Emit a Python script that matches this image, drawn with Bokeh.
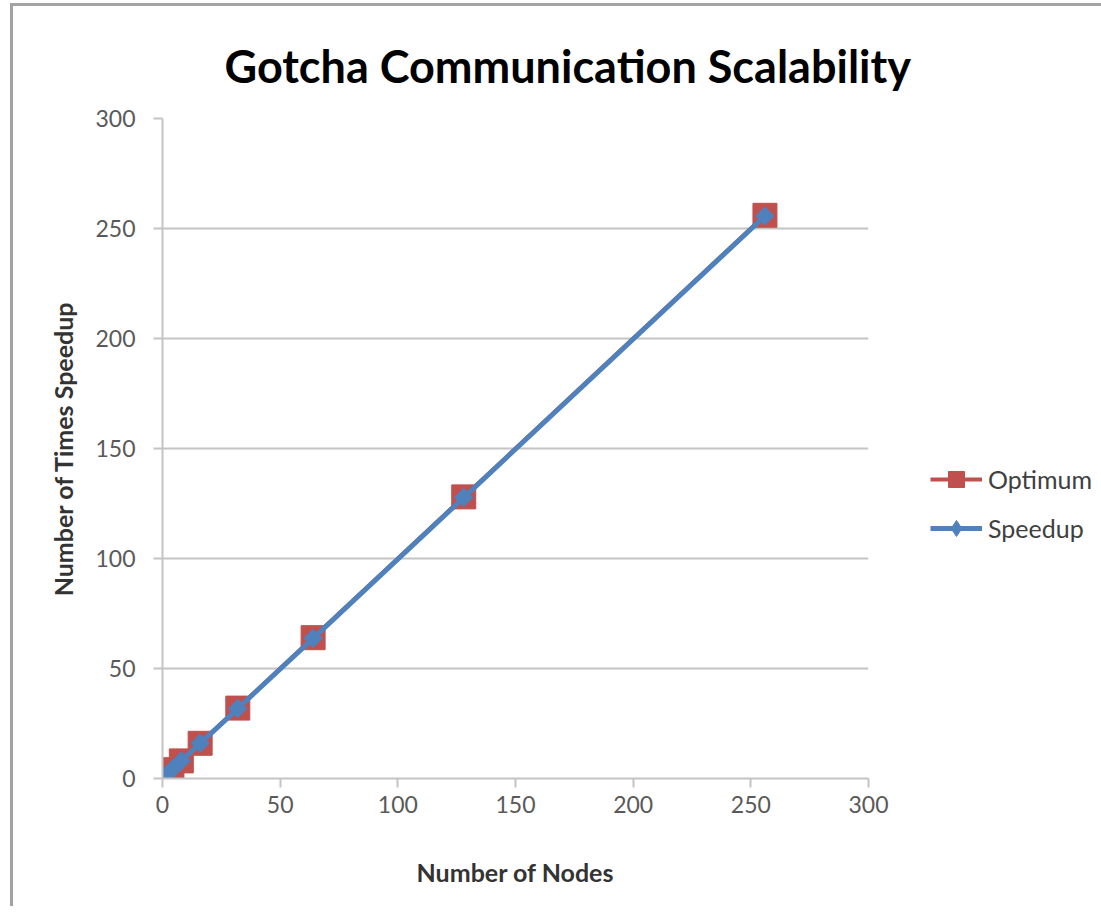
from bokeh.plotting import figure
from bokeh.models import Range1d, FixedTicker, Legend, LegendItem, Title
from bokeh.embed import file_html
from bokeh.resources import INLINE
import math

# ---- data ----
nodes = [1, 2, 4, 8, 16, 32, 64, 128, 256]
optimum = [1, 2, 4, 8, 16, 32, 64, 128, 256]
speedup = [1, 2, 4, 8, 16, 31.8, 63.7, 127.7, 255.7]
x_ticks = [0, 50, 100, 150, 200, 250, 300]
y_ticks = [0, 50, 100, 150, 200, 250, 300]
title_text = "Gotcha Communication Scalability"
x_label = "Number of Nodes"
y_label = "Number of Times Speedup"
series_names = ["Optimum", "Speedup"]

RED = "#C0504D"
BLUE = "#4F81BD"
GRID = "#c4c4c4"
FONT = "Lato"

p = figure(
    frame_width=706, frame_height=660,
    min_border_left=149, min_border_top=112, min_border_bottom=128, min_border_right=225,
    x_range=Range1d(0, 300), y_range=Range1d(0, 300),
    output_backend="svg", toolbar_location=None,
    background_fill_color="white", border_fill_color="white",
)
p.outline_line_color = None
p.styles = {"border-left": "3px solid #a3a3a3", "border-top": "3px solid #a3a3a3",
            "margin-left": "10px", "margin-top": "3px"}

# title
p.add_layout(Title(text=title_text, align="left", offset=62, standoff=52,
                   text_font=FONT, text_font_size="45px", text_font_style="bold",
                   text_color="black"), "above")

# axes
for ax in (p.xaxis[0], p.yaxis[0]):
    ax.axis_line_color = GRID
    ax.axis_line_width = 2
    ax.major_tick_line_color = GRID
    ax.major_tick_line_width = 2
    ax.major_tick_in = 0
    ax.major_tick_out = 9
    ax.minor_tick_line_color = None
    ax.major_label_text_font = FONT
    ax.major_label_text_font_size = "23px"
    ax.major_label_text_color = "#595959"
    ax.axis_label_text_font = FONT
    ax.axis_label_text_font_size = "25px"
    ax.axis_label_text_font_style = "bold"
    ax.axis_label_text_color = "#333333"
p.xaxis[0].ticker = FixedTicker(ticks=x_ticks)
p.yaxis[0].ticker = FixedTicker(ticks=y_ticks)
p.xaxis.axis_label = x_label
p.yaxis.axis_label = y_label
p.xaxis.major_label_standoff = 8
p.yaxis.major_label_standoff = 18
p.xaxis.axis_label_standoff = 41
p.yaxis.axis_label_standoff = 14

p.xgrid.grid_line_color = None
p.ygrid.ticker = FixedTicker(ticks=y_ticks)
p.ygrid.grid_line_color = GRID
p.ygrid.grid_line_width = 2

# series
r_line = p.line(nodes, optimum, line_color=RED, line_width=4)
r_sq = p.scatter(nodes, optimum, marker="square", size=24, fill_color=RED, line_color=RED)
b_line = p.line(nodes, speedup, line_color=BLUE, line_width=5)
# diamond (used for the legend swatch), covered by a rotated square in the plot
b_dm = p.scatter(nodes, speedup, marker="diamond", size=16,
                 fill_color=BLUE, line_color=BLUE)
b_rs = p.scatter(nodes, speedup, marker="square", angle=math.pi / 4, size=13,
                 fill_color=BLUE, line_color=BLUE)

legend = Legend(
    items=[LegendItem(label=series_names[0], renderers=[r_line, r_sq]),
           LegendItem(label=series_names[1], renderers=[b_line, b_dm])],
    location=(62, 230),
    glyph_width=52, glyph_height=40, label_height=40, spacing=9,
    padding=0, margin=0, label_standoff=6,
    label_text_font=FONT, label_text_font_size="25px", label_text_color="#404040",
    background_fill_alpha=0, border_line_color=None,
)
p.add_layout(legend, "right")

open("out.html", "w").write(file_html(p, INLINE))
